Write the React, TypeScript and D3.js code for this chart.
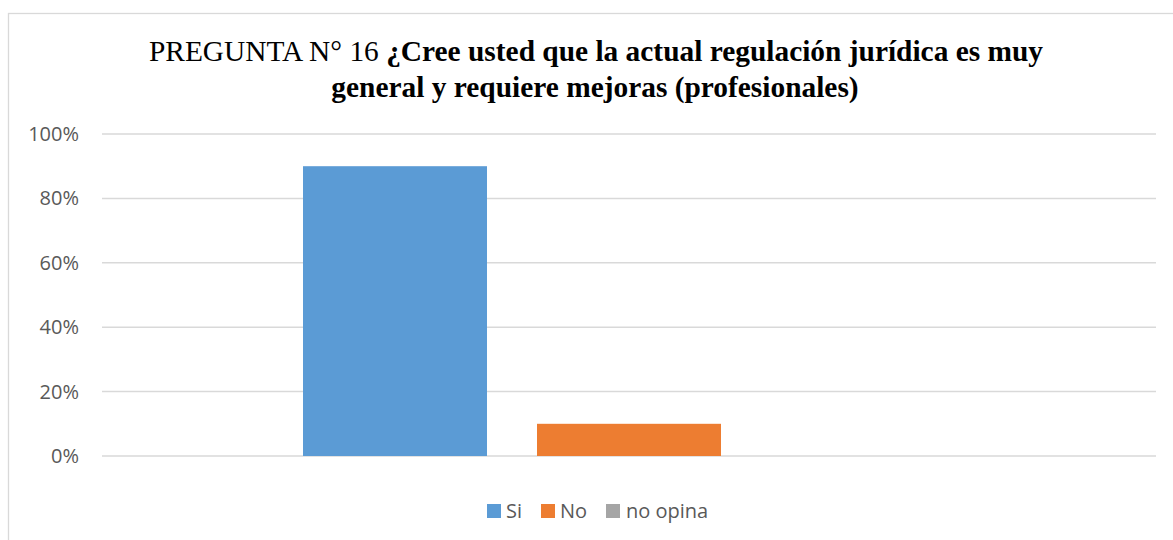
import React from "react";
import * as d3 from "d3";

const categories = ["PREGUNTA 16"];
const seriesNames = ["Si", "No", "no opina"];
const seriesValues = [0.9, 0.1, 0];
const seriesColors = ["#5B9BD5", "#ED7D31", "#A5A5A5"];
const yTicks = [0, 0.2, 0.4, 0.6, 0.8, 1.0];

const W = 1173;
const H = 540;

export default function App() {
  const plotLeft = 102;
  const plotRight = 1156;
  const plotTop = 134;
  const plotBottom = 456;

  const x0 = d3
    .scaleBand<string>()
    .domain(categories)
    .range([plotLeft, plotRight])
    .paddingInner(0)
    .paddingOuter(0.3083);
  const x1 = d3
    .scaleBand<string>()
    .domain(seriesNames)
    .range([0, x0.bandwidth()])
    .paddingInner(0.2137)
    .paddingOuter(0);
  const y = d3.scaleLinear().domain([0, 1]).range([plotBottom, plotTop]);
  const fmt = d3.format(".0%");

  const legendItems = [
    { name: "Si", sx: 487, tx: 506 },
    { name: "No", sx: 541, tx: 560 },
    { name: "no opina", sx: 606, tx: 626 },
  ];

  return (
    <div style={{ position: "absolute", left: 0, top: 0 }}>
      <svg width={W} height={H} style={{ display: "block" }}>
        <rect x={0} y={0} width={W} height={H} fill="#ffffff" />
        <rect
          x={8.5}
          y={13.5}
          width={W + 20}
          height={H + 20}
          fill="#ffffff"
          stroke="#d9d9d9"
          strokeWidth={1.3}
        />
        <text
          x={596}
          y={61}
          textAnchor="middle"
          fontFamily="'Liberation Serif', 'Times New Roman', serif"
          fontSize={29.4}
          fill="#000"
        >
          <tspan>PREGUNTA N° 16 </tspan>
          <tspan fontWeight="bold">
            ¿Cree usted que la actual regulación jurídica es muy
          </tspan>
        </text>
        <text
          x={595}
          y={97}
          textAnchor="middle"
          fontFamily="'Liberation Serif', 'Times New Roman', serif"
          fontSize={29.4}
          fontWeight="bold"
          fill="#000"
        >
          general y requiere mejoras (profesionales)
        </text>

        {yTicks.map((t) => (
          <g key={t}>
            <line
              x1={plotLeft}
              x2={plotRight}
              y1={y(t)}
              y2={y(t)}
              stroke="#d9d9d9"
              strokeWidth={1.5}
            />
            <text
              x={79}
              y={y(t) + 7}
              textAnchor="end"
              fontFamily="'Open Sans', sans-serif"
              fontSize={20}
              fill="#595959"
            >
              {fmt(t)}
            </text>
          </g>
        ))}

        {categories.map((c) => (
          <g key={c} transform={`translate(${x0(c)},0)`}>
            {seriesNames.map((s, i) => {
              const v = seriesValues[i];
              return (
                <rect
                  key={s}
                  x={x1(s)}
                  y={y(v)}
                  width={x1.bandwidth()}
                  height={plotBottom - y(v)}
                  fill={seriesColors[i]}
                />
              );
            })}
          </g>
        ))}

        {legendItems.map((it, i) => (
          <g key={it.name}>
            <rect x={it.sx} y={504} width={14} height={14} fill={seriesColors[i]} />
            <text
              x={it.tx}
              y={518}
              fontFamily="'Open Sans', sans-serif"
              fontSize={20}
              fill="#595959"
            >
              {seriesNames[i]}
            </text>
          </g>
        ))}
      </svg>
    </div>
  );
}
